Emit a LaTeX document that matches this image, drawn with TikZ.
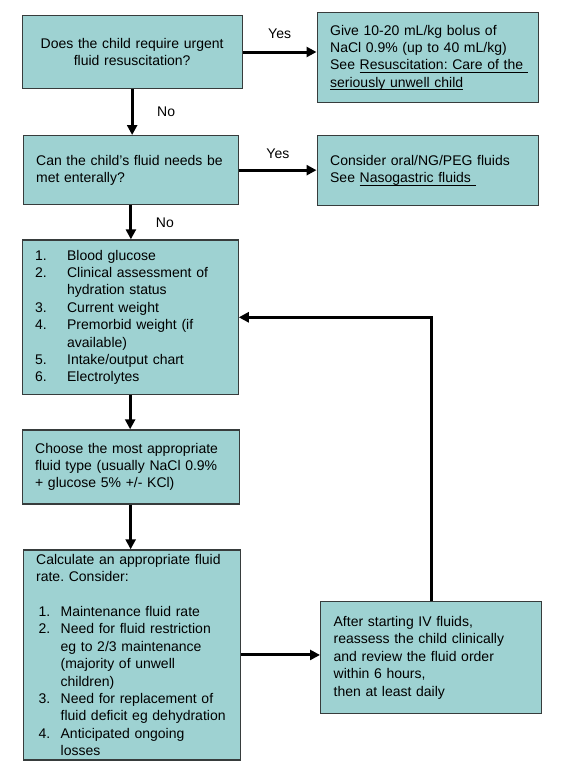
\documentclass[tikz,border=0pt]{standalone}
\usepackage{fontspec}
\setmainfont{Liberation Sans}
\usetikzlibrary{arrows.meta}

\definecolor{boxfill}{RGB}{158,210,210}
\definecolor{boxline}{RGB}{55,60,60}
\newcommand{\listno}[2]{\makebox[#1][l]{#2}}
\newcommand{\listgap}[1]{\hspace*{#1}}
\newcommand{\linkul}[1]{\leavevmode\setbox0\hbox{#1}\rlap{\rule[-2.6pt]{\wd0}{0.8pt}}\box0}
\frenchspacing

\tikzset{
  flowbox/.style={draw=boxline, line width=1.3pt, fill=boxfill, anchor=north west,
    inner xsep=13pt, inner ysep=0pt, align=left, font=\fontsize{14}{17.4}\selectfont},
  arr/.style={line width=3pt, -{Triangle[length=10pt,width=10pt]}},
  lbl/.style={inner sep=0pt, font=\fontsize{14}{17.4}\selectfont}
}

\begin{document}
\begin{tikzpicture}[x=1pt, y=-1pt]
\useasboundingbox (0,0) rectangle (572,772);
% questions on the left, outcomes on the right
\node[flowbox, align=center, text width=194pt, minimum height=72.7pt] (urgent) at (21.5,15)
  {Does the child require urgent\\ fluid resuscitation?};
\node[flowbox, text width=195.5pt, minimum height=90pt] (bolus) at (316.5,12)
  {Give 10-20 mL/kg bolus of\\ NaCl 0.9\% (up to 40 mL/kg)\\
   \mbox{See \linkul{Resuscitation: Care of the\ }}\\ \linkul{seriously unwell child}};
\node[flowbox, text width=189.5pt, minimum height=69pt] (enteral) at (22.5,135)
  {Can the child’s fluid needs be\\ met enterally?};
\node[flowbox, text width=195.5pt, minimum height=70pt] (oral) at (316.5,135)
  {Consider oral/NG/PEG fluids\\ See \linkul{Nasogastric fluids\ }};
\node[flowbox, text width=190pt, minimum height=154.7pt] (checks) at (21.5,239.3)
  {\listno{32pt}{1.}Blood glucose\\
   \listno{32pt}{2.}Clinical assessment of\\
   \listgap{32pt}hydration status\\
   \listno{32pt}{3.}Current weight\\
   \listno{32pt}{4.}Premorbid weight (if\\
   \listgap{32pt}available)\\
   \listno{32pt}{5.}Intake/output chart\\
   \listno{32pt}{6.}Electrolytes};
\node[flowbox, text width=191pt, minimum height=74pt] (choose) at (21.5,429.3)
  {Choose the most appropriate\\ fluid type (usually NaCl 0.9\%\\ + glucose 5\% +/- KCl)};
\node[flowbox, text width=191.5pt, minimum height=210pt] (rate) at (22.5,549.3)
  {Calculate an appropriate fluid\\ rate. Consider:\\[17.4pt]
   \listgap{2.5pt}\listno{22pt}{1.}Maintenance fluid rate\\
   \listgap{2.5pt}\listno{22pt}{2.}Need for fluid restriction\\
   \listgap{24.5pt}eg to 2/3 maintenance\\
   \listgap{24.5pt}(majority of unwell\\
   \listgap{24.5pt}children)\\
   \listgap{2.5pt}\listno{22pt}{3.}Need for replacement of\\
   \listgap{24.5pt}fluid deficit eg dehydration\\
   \listgap{2.5pt}\listno{22pt}{4.}Anticipated ongoing\\
   \listgap{24.5pt}losses};
\node[flowbox, text width=195pt, minimum height=112pt] (review) at (320,601)
  {After starting IV fluids,\\ reassess the child clinically\\ and review the fluid order\\
   within 6 hours,\\ then at least daily};
% connectors
\draw[arr] (urgent.east) -- node[lbl, above=12pt] {Yes} (urgent.east -| bolus.west);
\draw[arr] (urgent.south) -- node[lbl, right=23.5pt] {No} (urgent.south |- enteral.north);
\draw[arr] (enteral.east) -- node[lbl, above=10.5pt] {Yes} (enteral.east -| oral.west);
\draw[arr] (enteral.south) -- node[lbl, right=23.5pt] {No} (enteral.south |- checks.north);
\draw[arr] (checks.south) -- (checks.south |- choose.north);
\draw[arr] (choose.south) -- (choose.south |- rate.north);
\draw[arr] (rate.east) -- (rate.east -| review.west);
\draw[arr] (review.north) |- (checks.east);
\end{tikzpicture}
\end{document}
